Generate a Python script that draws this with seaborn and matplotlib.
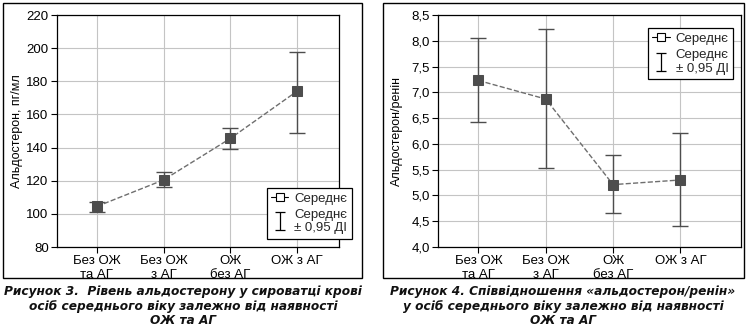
import matplotlib
matplotlib.use("Agg")
import matplotlib.pyplot as plt
from matplotlib.lines import Line2D
from matplotlib.patches import Rectangle
from matplotlib.path import Path
from matplotlib.ticker import FuncFormatter, MultipleLocator
import seaborn as sns
import pandas as pd

sns.set_theme(style="white")
plt.rcParams["font.family"] = ["Liberation Sans", "DejaVu Sans"]

# Groups
groups = ["Без ОЖ\nта АГ", "Без ОЖ\nз АГ", "ОЖ\nбез АГ", "ОЖ з АГ"]

# Aldosterone, pg/ml: mean and 95% CI bounds
aldo_mean = [104.5, 120.5, 145.5, 174.0]
aldo_lo = [101.0, 116.0, 139.0, 149.0]
aldo_hi = [107.0, 125.5, 152.0, 197.5]

# Aldosterone/renin ratio: mean and 95% CI bounds
arr_mean = [7.23, 6.87, 5.21, 5.30]
arr_lo = [6.42, 5.53, 4.65, 4.40]
arr_hi = [8.05, 8.23, 5.78, 6.21]

captions = [
    "Рисунок 3.  Рівень альдостерону у сироватці крові\nосіб середнього віку залежно від наявності\nОЖ та АГ",
    "Рисунок 4. Співвідношення «альдостерон/ренін»\nу осіб середнього віку залежно від наявності\nОЖ та АГ",
]

W, H = 747, 333
fig = plt.figure(figsize=(W / 100, H / 100), dpi=100)
fig.patch.set_facecolor("white")

MARK = "#4d4d4d"
LINE = "#6e6e6e"
GRID = "#c4c4c4"

# I-beam glyph for the confidence-interval legend entry
IBEAM = Path([(-0.5, -1), (0.5, -1), (0, -1), (0, 1), (-0.5, 1), (0.5, 1)],
             [Path.MOVETO, Path.LINETO, Path.MOVETO, Path.LINETO,
              Path.MOVETO, Path.LINETO])


def px_axes(x0, x1, y0, y1):
    return fig.add_axes([x0 / W, (H - y1) / H, (x1 - x0) / W, (y1 - y0) / H])


def draw_panel(ax, means, lo, hi, ylim, step, ylabel, label_x, fmt, xlim,
               leg_loc, leg_anchor):
    df = pd.DataFrame({"group": groups, "mean": means, "lo": lo, "hi": hi})
    sns.pointplot(data=df, x="group", y="mean", errorbar=None, color=MARK,
                  markers="s", linestyles="--", markersize=7, linewidth=1.0,
                  ax=ax, zorder=4)
    for ln in ax.lines:
        ln.set_color(LINE)
        ln.set_markerfacecolor(MARK)
        ln.set_markeredgecolor(MARK)
    xs = list(range(len(df)))
    ax.errorbar(xs, df["mean"],
                yerr=[df["mean"] - df["lo"], df["hi"] - df["mean"]],
                fmt="none", ecolor=MARK, elinewidth=1.0, capsize=6,
                capthick=1.0, zorder=3)
    ax.set_ylim(*ylim)
    ax.set_xlim(*xlim)
    ax.yaxis.set_major_locator(MultipleLocator(step))
    ax.yaxis.set_major_formatter(FuncFormatter(fmt))
    ax.grid(True, color=GRID, linewidth=0.8, zorder=0)
    ax.set_axisbelow(True)
    for s in ax.spines.values():
        s.set_color("black")
        s.set_linewidth(0.9)
    ax.tick_params(axis="both", which="major", direction="out", length=4,
                   width=0.8, color="black", labelsize=9.5, labelcolor="black",
                   pad=2, left=True, bottom=True)
    ax.set_xlabel("")
    ax.set_ylabel(ylabel, fontsize=9, color="black")
    ax.yaxis.set_label_coords(label_x, 0.5)

    mean_h = Line2D([], [], color="black", linestyle="-", linewidth=0.8,
                    marker="s", markersize=6, markerfacecolor="white",
                    markeredgecolor="black", markeredgewidth=0.8)
    ci_h = Line2D([], [], linestyle="none", marker=IBEAM, markersize=13,
                  markeredgecolor="black", markerfacecolor="none",
                  markeredgewidth=0.9)
    leg = ax.legend([mean_h, ci_h], ["Середнє", "Середнє\n± 0,95 ДІ"],
                    loc=leg_loc, bbox_to_anchor=leg_anchor, borderaxespad=0,
                    fancybox=False, framealpha=1, edgecolor="black",
                    fontsize=9.5, handlelength=1.3, handletextpad=0.45,
                    borderpad=0.35, labelspacing=0.3)
    leg.get_frame().set_linewidth(0.9)
    leg.set_zorder(10)


comma1 = lambda v, p: f"{v:.1f}".replace(".", ",")
intf = lambda v, p: f"{v:.0f}"

ax1 = px_axes(57, 339, 15, 247)
draw_panel(ax1, aldo_mean, aldo_lo, aldo_hi, (80, 220), 20,
           "Альдостерон, пг/мл", -0.122, intf, (-0.6, 3.63),
           "lower right", (1.046, 0.034))

ax2 = px_axes(438, 741, 15, 247)
draw_panel(ax2, arr_mean, arr_lo, arr_hi, (4.0, 8.5), 0.5,
           "Альдостерон/ренін", -0.114, comma1, (-0.6, 3.9),
           "upper right", (0.974, 0.944))

# Panel frames
for x0, x1 in [(3, 362), (383, 744)]:
    fig.patches.append(Rectangle((x0 / W, (H - 278) / H), (x1 - x0) / W,
                                 275 / H, transform=fig.transFigure,
                                 fill=False, edgecolor="black", linewidth=1.0))

# Captions
for cx, txt in zip([183, 563], captions):
    fig.text(cx / W, (H - 285) / H, txt, ha="center", va="top",
             fontsize=9.7, fontweight="bold", fontstyle="italic",
             fontstretch="condensed", family=["DejaVu Sans"],
             linespacing=1.17, color="#111111")

fig.savefig("out.png", dpi=100, facecolor="white")
